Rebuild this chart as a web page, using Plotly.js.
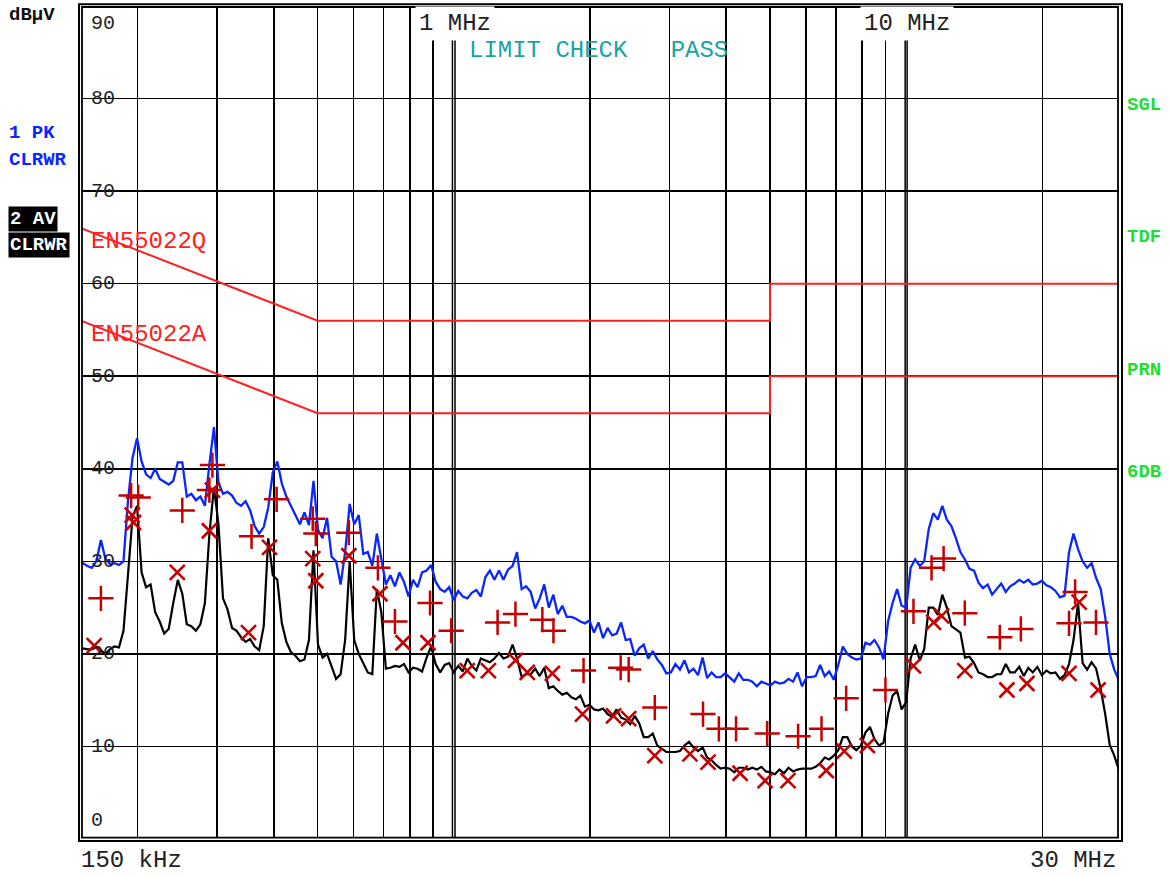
<!DOCTYPE html>
<html><head><meta charset="utf-8">
<script src="https://cdn.plot.ly/plotly-3.0.1.min.js"></script>
<style>html,body{margin:0;padding:0;background:#fff}#chart{width:1170px;height:877px}</style>
</head><body><div id="chart"></div>
<script>
// Sweep frequencies (MHz)
const freqMHz = [0.15,
0.1514,0.1549,0.1585,0.1622,0.166,0.1698,0.1738,0.1778,0.182,0.1862,
0.1905,0.195,0.1995,0.2042,0.2089,0.2138,0.2188,0.2239,0.2291,0.2344,
0.2399,0.2455,0.2512,0.257,0.263,0.2692,0.2754,0.2818,0.2884,0.2951,
0.302,0.309,0.3162,0.3236,0.3311,0.3388,0.3467,0.3548,0.3631,0.3715,
0.3802,0.389,0.3981,0.4074,0.4169,0.4266,0.4365,0.4467,0.4571,0.4677,
0.4786,0.4898,0.5012,0.5129,0.5248,0.537,0.5495,0.5623,0.5754,0.5888,
0.6026,0.6166,0.631,0.6457,0.6607,0.6761,0.6918,0.7079,0.7244,0.7413,
0.7586,0.7762,0.7943,0.8128,0.8318,0.8511,0.871,0.8913,0.912,0.9333,
0.955,0.9772,1,1.023,1.047,1.072,1.096,1.122,1.148,1.175,
1.202,1.23,1.259,1.288,1.318,1.349,1.38,1.413,1.445,1.479,
1.514,1.549,1.585,1.622,1.66,1.698,1.738,1.778,1.82,1.862,
1.905,1.95,1.995,2.042,2.089,2.138,2.188,2.239,2.291,2.344,
2.399,2.455,2.512,2.57,2.63,2.692,2.754,2.818,2.884,2.951,
3.02,3.09,3.162,3.236,3.311,3.388,3.467,3.548,3.631,3.715,
3.802,3.89,3.981,4.074,4.169,4.266,4.365,4.467,4.571,4.677,
4.786,4.898,5.012,5.129,5.248,5.37,5.495,5.623,5.754,5.888,
6.026,6.166,6.31,6.457,6.607,6.761,6.918,7.079,7.244,7.413,
7.586,7.762,7.943,8.128,8.318,8.511,8.71,8.913,9.12,9.333,
9.55,9.772,10,10.23,10.47,10.72,10.96,11.22,11.48,11.75,
12.02,12.3,12.59,12.88,13.18,13.49,13.8,14.13,14.45,14.79,
15.14,15.49,15.85,16.22,16.6,16.98,17.38,17.78,18.2,18.62,
19.05,19.5,19.95,20.42,20.89,21.38,21.88,22.39,22.91,23.44,
23.99,24.55,25.12,25.7,26.3,26.92,27.54,28.18,28.84,29.51,
30];

// Trace 1: peak (dBuV)
const peakDbuv = [30.0,
29.8,29.5,29.3,30.0,32.3,30.3,29.7,29.8,29.6,30.0,
36.5,41.2,43.3,40.8,39.4,39.0,40.0,38.9,38.6,38.3,
38.7,40.7,40.7,37.0,37.3,36.6,37.0,36.0,40.5,44.5,
38.5,37.3,37.5,37.1,36.3,36.0,36.5,35.5,33.8,33.0,
33.7,35.8,39.6,40.8,38.4,37.0,36.0,35.0,34.0,35.3,
33.9,38.7,33.4,32.5,34.7,30.5,30.0,27.5,31.0,36.2,
34.0,35.0,30.8,31.0,29.5,33.0,30.3,27.5,28.5,27.3,
28.8,27.8,26.2,28.0,27.2,28.8,29.0,29.6,27.8,27.0,
26.7,27.2,25.8,26.8,26.2,26.0,26.6,26.9,26.2,28.3,
29.0,28.0,29.0,28.0,29.1,29.5,31.0,27.0,27.3,26.7,
24.9,26.0,27.5,25.0,26.4,24.3,25.2,24.0,24.0,23.8,
23.5,23.3,23.6,22.3,23.4,21.7,22.8,22.0,22.2,23.4,
21.5,21.6,19.8,20.6,21.0,19.5,20.3,19.4,18.8,17.9,
18.0,18.9,18.3,19.3,18.0,18.4,17.7,19.6,17.4,18.0,
17.5,17.5,17.9,17.4,17.0,17.9,17.2,17.2,17.0,16.5,
17.0,16.8,16.6,17.0,16.8,16.9,17.3,17.0,18.0,16.5,
17.5,17.5,17.6,18.8,17.6,18.1,17.2,18.8,20.8,20.0,
19.6,19.4,19.5,21.2,21.0,21.5,20.7,19.4,23.5,25.5,
27.0,25.2,25.0,29.3,30.2,29.5,30.0,33.5,35.2,34.5,
36.0,34.5,33.8,32.5,31.0,30.2,29.2,29.0,27.7,27.1,
27.5,26.4,27.0,27.6,26.7,27.3,27.6,28.0,27.7,28.0,
27.5,27.6,27.9,27.4,27.2,26.8,26.1,26.3,31.0,33.0,
31.3,30.0,29.3,29.8,28.2,27.0,24.0,20.0,18.3,17.2,
16.8];

// Trace 2: average (dBuV)
const avgDbuv = [20.6,
20.6,20.5,20.5,20.8,20.4,20.0,20.5,20.8,20.7,22.5,
28.5,34.8,36.0,28.8,27.2,27.5,24.5,23.5,22.2,22.7,
25.5,28.0,26.5,23.2,23.0,22.5,23.2,25.5,33.0,38.0,
34.0,26.0,24.8,22.8,22.5,21.8,21.3,21.6,20.8,20.4,
23.0,32.5,28.5,28.0,23.3,21.3,20.2,19.8,19.2,19.4,
21.5,31.2,21.0,19.6,20.0,18.6,17.3,17.8,21.5,30.0,
21.5,20.0,19.0,18.0,17.8,27.0,24.5,18.4,18.5,18.7,
18.6,18.9,18.0,18.5,18.4,18.1,19.6,20.8,18.9,18.0,
18.8,19.0,18.0,18.7,18.1,19.5,18.7,18.2,19.5,19.3,
19.1,19.5,20.1,19.5,19.7,21.0,19.5,17.5,17.8,17.8,
18.4,17.6,18.5,16.3,16.5,16.0,15.6,15.8,15.3,15.1,
15.5,14.3,14.5,14.0,13.9,14.1,13.5,13.2,14.0,13.1,
12.9,12.4,13.3,12.5,11.0,11.0,11.4,10.1,9.7,9.4,
9.4,9.4,9.5,10.1,10.5,9.9,9.5,9.9,8.8,8.5,
8.0,7.6,7.7,7.6,7.2,7.7,7.7,7.5,7.7,7.5,
7.8,7.3,7.2,7.0,7.5,7.1,7.7,7.3,7.5,7.6,
7.6,7.6,7.8,8.2,8.8,8.6,9.0,9.6,11.0,11.0,
10.0,9.6,10.1,11.5,12.1,10.8,10.1,10.4,13.5,15.5,
16.0,14.0,14.8,19.5,21.0,19.3,20.5,25.0,25.0,24.2,
26.4,25.0,23.0,22.6,22.3,19.6,19.7,19.0,18.0,17.8,
17.5,17.5,17.8,17.8,18.9,18.0,18.0,18.6,17.6,18.5,
18.0,18.6,17.7,18.2,17.9,18.0,17.3,17.7,18.9,21.5,
25.5,19.0,18.3,19.1,18.4,16.2,13.5,10.2,9.0,7.5,
6.8];

// Final measurement markers
const qpFreq = [0.166,0.1936,0.2007,0.2512,0.2883,0.2928,0.3573,0.406,0.4879,0.4955,
0.5863,0.6798,0.7413,0.8862,0.987,1.25,1.369,1.57,1.661,1.936,
2.339,2.436,2.782,3.556,3.855,4.207,4.93,5.77,6.5,7.37,
9.0,10.38,11.38,12.1,13.48,16.11,17.93,22.91,23.63,26.28];
const qpLevel = [26.0,37.1,36.9,35.5,37.7,40.4,32.7,36.7,34.6,33.0,
33.1,29.3,23.5,25.5,22.5,23.4,24.3,23.7,22.5,18.2,
18.5,18.3,14.2,13.5,11.9,11.9,11.4,11.1,11.9,15.2,
16.1,24.6,29.3,30.3,24.4,21.8,22.7,23.3,26.7,23.4];
const avFreq = [0.1604,0.1946,0.196,0.2449,0.2883,0.2928,0.3518,0.3916,0.4879,0.4955,
0.5863,0.6869,0.7724,0.8773,1.071,1.193,1.369,1.454,1.652,1.926,
2.256,2.436,2.782,3.327,3.648,4.295,4.878,5.48,6.66,7.3,
8.21,10.38,11.5,11.98,13.48,16.7,18.49,22.91,24.12,26.56];
const avLevel = [20.9,35.0,34.2,28.8,33.3,37.7,22.3,31.5,30.3,27.9,
30.6,26.5,21.2,21.2,18.2,18.2,19.3,18.0,17.9,13.5,
13.3,13.0,9.0,9.2,8.3,7.1,6.3,6.3,7.4,9.5,
10.1,18.7,23.4,24.1,18.2,16.1,16.8,17.9,25.6,16.1];

// Limit lines
const limitFreq = [0.15,0.5,5,5,30];
const limitQP = [66,56,56,60,60];
const limitAV = [56,46,46,50,50];

// Axis / labels
const gridFreq = [0.2,0.3,0.4,0.5,0.6,0.7,0.8,0.9,2,3,4,5,6,7,8,9,20];
const doubleLineFreq = [0.9934,1.0066,9.95,10.05];
const levelGrid = [10,20,30,40,50,60,70,80];
const levelLabelText = ['90','80','70','60','50','40','30','20','10','0'];
const levelLabelPos = [88.1,80,70,60,50,40,30,20,10,2];

const MONO = "'Courier New', 'Liberation Mono', monospace";
const RED = '#ff2020', MRED = '#c40000', BLUE = '#0a26ff', GREEN = '#22dd33', TEAL = '#1aa3a3';

const traces = [
  {x: limitFreq, y: limitQP, mode:'lines', line:{color:RED, width:2}, hoverinfo:'skip'},
  {x: limitFreq, y: limitAV, mode:'lines', line:{color:RED, width:2}, hoverinfo:'skip'},
  {x: freqMHz, y: peakDbuv, mode:'lines', line:{color:BLUE, width:2.3}},
  {x: freqMHz, y: avgDbuv, mode:'lines', line:{color:'#000', width:2.2}},
  {x: qpFreq, y: qpLevel, mode:'markers', marker:{symbol:'cross-thin-open', size:18, color:MRED, line:{color:MRED, width:2.5}}},
  {x: avFreq, y: avLevel, mode:'markers', marker:{symbol:'x-thin-open', size:15, color:MRED, line:{color:MRED, width:2.6}}}
];

const shapes = [];
doubleLineFreq.forEach(f => shapes.push({type:'line', xref:'x', yref:'paper', x0:f, x1:f, y0:0, y1:1, line:{color:'#000', width:1.5}, layer:'below'}));
levelLabelPos.slice(1,9).forEach(v => shapes.push({type:'rect', xref:'paper', yref:'y', x0:0.0082, x1:0.0355, y0:v-1.3, y1:v+1.3, fillcolor:'#fff', line:{width:0}, layer:'between'}));
// double frame
shapes.push({type:'rect', xref:'paper', yref:'paper', x0:-0.0005, x1:0.9981, y0:0.0004, y1:1.0005, line:{color:'#fff', width:2.5}, fillcolor:'rgba(0,0,0,0)', layer:'above'});
shapes.push({type:'rect', xref:'paper', yref:'paper', x0:0.00096, x1:0.99616, y0:0.0016, y1:0.9988, line:{color:'#000', width:1.8}, fillcolor:'rgba(0,0,0,0)', layer:'above'});
shapes.push({type:'rect', xref:'paper', yref:'paper', x0:-0.0019, x1:1.0, y0:-0.0024, y1:1.0022, line:{color:'#000', width:2}, fillcolor:'rgba(0,0,0,0)', layer:'above'});

const ann = [];
levelLabelText.forEach((t,i) => ann.push({xref:'paper', yref:'y', x:0.0078, y:levelLabelPos[i], xanchor:'left', yanchor:'middle', text:t, showarrow:false, font:{family:MONO, size:20, color:'#222'}}));
function A(o){ ann.push(Object.assign({showarrow:false, xref:'paper', yref:'paper', xanchor:'left', yanchor:'middle'}, o)); }
A({x:0.3208, y:0.979, text:'1 MHz', bgcolor:'#fff', borderpad:3, font:{family:MONO, size:24, color:'#222'}});
A({x:0.7483, y:0.979, text:'10 MHz', bgcolor:'#fff', borderpad:3, font:{family:MONO, size:24, color:'#222'}});
A({x:0.3707, y:0.946, text:'LIMIT CHECK\u00a0\u00a0\u00a0PASS', font:{family:MONO, size:24, color:TEAL}});
A({x:0.0078, y:0.7167, text:'EN55022Q', font:{family:MONO, size:24, color:RED}});
A({x:0.0078, y:0.6062, text:'EN55022A', font:{family:MONO, size:24, color:RED}});
A({x:-0.0022, y:-0.0258, text:'150 kHz', font:{family:MONO, size:24, color:'#222'}});
A({x:0.9962, y:-0.0258, xanchor:'right', text:'30 MHz', font:{family:MONO, size:24, color:'#222'}});
A({x:-0.0712, y:0.9892, text:'<b>dBµV</b>', font:{family:MONO, size:19, color:'#111'}});
A({x:-0.0712, y:0.8475, text:'<b>1 PK</b>', font:{family:MONO, size:19, color:BLUE}});
A({x:-0.0712, y:0.8151, text:'<b>CLRWR</b>', font:{family:MONO, size:19, color:BLUE}});
A({x:-0.0701, y:0.7437, text:'<b>2 AV</b>', bgcolor:'#000', borderpad:1, font:{family:MONO, size:19, color:'#fff'}});
A({x:-0.0701, y:0.7125, text:'<b>CLRWR</b>', bgcolor:'#000', borderpad:1, font:{family:MONO, size:19, color:'#fff'}});
A({x:1.0030, y:0.8812, text:'<b>SGL</b>', font:{family:MONO, size:19, color:GREEN}});
A({x:1.0030, y:0.7227, text:'<b>TDF</b>', font:{family:MONO, size:19, color:GREEN}});
A({x:1.0030, y:0.5630, text:'<b>PRN</b>', font:{family:MONO, size:19, color:GREEN}});
A({x:1.0030, y:0.4406, text:'<b>6DB</b>', font:{family:MONO, size:19, color:GREEN}});

const layout = {
  width:1170, height:877,
  margin:{l:81, r:48, t:6, b:38, pad:0},
  paper_bgcolor:'#fff', plot_bgcolor:'#fff',
  showlegend:false,
  xaxis:{type:'log', range:[Math.log10(0.15), Math.log10(30)], tickmode:'array', tickvals:gridFreq,
         showticklabels:false, ticks:'', showgrid:true, gridcolor:'#000', gridwidth:1.6, zeroline:false, showline:false, fixedrange:true},
  yaxis:{range:[0,90], tickmode:'array', tickvals:levelGrid, showticklabels:false, ticks:'',
         showgrid:true, gridcolor:'#000', gridwidth:1.6, zeroline:false, showline:false, fixedrange:true},
  shapes: shapes,
  annotations: ann
};
Plotly.newPlot('chart', traces, layout, {displayModeBar:false, staticPlot:true});
</script></body></html>
